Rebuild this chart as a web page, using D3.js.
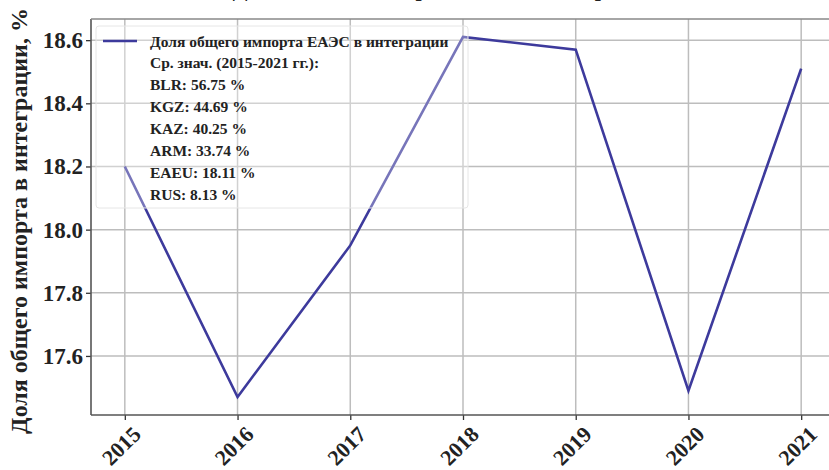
<!DOCTYPE html>
<html>
<head>
<meta charset="utf-8">
<script src="https://cdn.jsdelivr.net/npm/d3@7"></script>
<style>
  html, body { margin: 0; padding: 0; background: #fff; }
  svg { display: block; font-family: "Liberation Serif", "Times New Roman", serif; }
</style>
</head>
<body>
<svg id="chart" width="829" height="470"></svg>
<script>
// Share of total EAEU imports in integration, by year
const years = [2015, 2016, 2017, 2018, 2019, 2020, 2021];
const shareValues = [18.20, 17.47, 17.95, 18.61, 18.57, 17.49, 18.51];
const yTicks = [17.6, 17.8, 18.0, 18.2, 18.4, 18.6];
const seriesName = "Доля общего импорта ЕАЭС в интеграции";
const averagesTitle = "Ср. знач. (2015-2021 гг.):";
const countries = ["BLR", "KGZ", "KAZ", "ARM", "EAEU", "RUS"];
const averages = [56.75, 44.69, 40.25, 33.74, 18.11, 8.13];
const chartTitle = "Доля общего импорта ЕАЭС в интеграции по годам";
const yLabel = "Доля общего импорта в интеграции, %";

const svg = d3.select("#chart");
const plot = { left: 91, top: 19, right: 835, bottom: 415 };

// 5% padding around the data on both axes
const xPad = (d3.max(years) - d3.min(years)) * 0.05;
const x = d3.scaleLinear()
  .domain([d3.min(years) - xPad, d3.max(years) + xPad])
  .range([plot.left, plot.right]);
const yMin = d3.min(shareValues), yMax = d3.max(shareValues);
const yPad = (yMax - yMin) * 0.05;
const y = d3.scaleLinear()
  .domain([yMin - yPad, yMax + yPad])
  .range([plot.bottom, plot.top]);

// title, sitting almost entirely above the top edge of the page
svg.append("text")
  .attr("x", 490).attr("y", -4)
  .attr("text-anchor", "middle")
  .attr("font-size", 22).attr("font-weight", "bold")
  .attr("fill", "#222")
  .text(chartTitle);

// grid
const grid = svg.append("g").attr("stroke", "#bdbdbd").attr("stroke-width", 1.5);
grid.selectAll("line.gx").data(years).join("line")
  .attr("x1", d => x(d)).attr("x2", d => x(d))
  .attr("y1", plot.top).attr("y2", plot.bottom);
grid.selectAll("line.gy").data(yTicks).join("line")
  .attr("x1", plot.left).attr("x2", plot.right)
  .attr("y1", d => y(d)).attr("y2", d => y(d));

// axes
const xAxis = svg.append("g")
  .attr("transform", `translate(0,${plot.bottom})`)
  .call(d3.axisBottom(x).tickValues(years).tickFormat(d3.format("d")).tickSize(5).tickSizeOuter(0));
xAxis.select(".domain").remove();
xAxis.selectAll(".tick line").attr("stroke", "#333").attr("stroke-width", 1.3);
xAxis.selectAll(".tick text")
  .attr("font-family", "Liberation Serif, serif")
  .attr("font-size", 22).attr("font-weight", "bold").attr("fill", "#222")
  .attr("text-anchor", "middle")
  .attr("dy", null).attr("y", null)
  .attr("transform", "translate(-4,31) rotate(-45)")
  .attr("dominant-baseline", "central");

const yAxis = svg.append("g")
  .attr("transform", `translate(${plot.left},0)`)
  .call(d3.axisLeft(y).tickValues(yTicks).tickFormat(d3.format(".1f")).tickSize(5).tickSizeOuter(0));
yAxis.select(".domain").remove();
yAxis.selectAll(".tick line").attr("stroke", "#333").attr("stroke-width", 1.3);
yAxis.selectAll(".tick text")
  .attr("font-family", "Liberation Serif, serif")
  .attr("font-size", 23).attr("font-weight", "bold").attr("fill", "#222")
  .attr("x", -8);

// spines
const spines = svg.append("g").attr("stroke", "#555").attr("stroke-width", 1.6).attr("fill", "none");
spines.append("line").attr("x1", plot.left).attr("x2", plot.left).attr("y1", plot.top).attr("y2", plot.bottom);
spines.append("line").attr("x1", plot.left).attr("x2", plot.right).attr("y1", plot.bottom).attr("y2", plot.bottom);
spines.append("line").attr("x1", plot.left).attr("x2", plot.right).attr("y1", plot.top).attr("y2", plot.top).attr("stroke", "#888");

// y axis label
svg.append("text")
  .attr("transform", `translate(27,${(plot.top + plot.bottom) / 2 + 4}) rotate(-90)`)
  .attr("text-anchor", "middle")
  .attr("font-size", 24).attr("font-weight", "bold").attr("fill", "#222")
  .text(yLabel);

// data line
const line = d3.line().x((d, i) => x(years[i])).y(d => y(d));
svg.append("path")
  .datum(shareValues)
  .attr("d", line)
  .attr("fill", "none")
  .attr("stroke", "#3d3a9c")
  .attr("stroke-width", 2.6)
  .attr("stroke-linejoin", "miter");

// legend with the averages
const legend = svg.append("g");
const rowH = 21.9, lx = 96, ly = 26;
const rows = [averagesTitle].concat(countries.map((c, i) => `${c}: ${averages[i].toFixed(2)} %`));
legend.append("rect")
  .attr("x", lx).attr("y", ly).attr("width", 372).attr("height", 182).attr("rx", 3)
  .attr("fill", "rgba(255,255,255,0.3)").attr("stroke", "#e6e6e6").attr("stroke-width", 1);
legend.append("line")
  .attr("x1", 103).attr("x2", 137).attr("y1", 41).attr("y2", 41)
  .attr("stroke", "#3d3a9c").attr("stroke-width", 2.6);
legend.append("text")
  .attr("x", 150).attr("y", 41).attr("dominant-baseline", "central")
  .attr("font-size", 15.5).attr("font-weight", "bold").attr("fill", "#222")
  .text(seriesName);
legend.selectAll("text.row").data(rows).join("text")
  .attr("class", "row")
  .attr("x", 150).attr("y", (d, i) => 41 + rowH * (i + 1))
  .attr("dominant-baseline", "central")
  .attr("font-size", 15.5).attr("font-weight", "bold").attr("fill", "#222")
  .text(d => d);
</script>
</body>
</html>
